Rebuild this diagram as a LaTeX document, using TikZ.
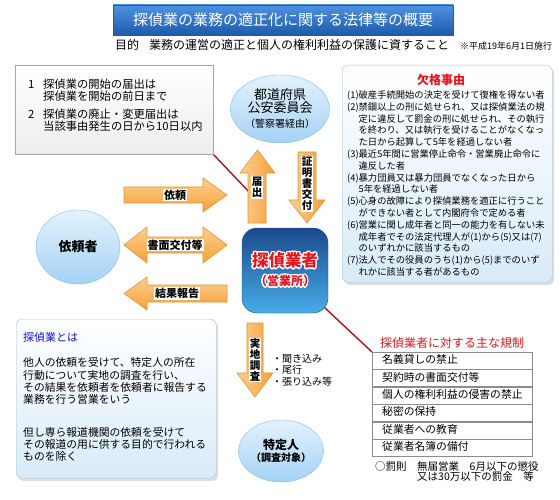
\documentclass[tikz,border=0pt]{standalone}
\usepackage{fontspec}
\setmainfont{Noto Sans CJK JP}
\usepackage[copies]{contour}
\contourlength{1.2pt}
\usetikzlibrary{shapes,shadows,positioning}

\definecolor{titleTop}{RGB}{78,146,224}
\definecolor{titleBottom}{RGB}{30,90,172}
\definecolor{arrowLight}{RGB}{253,208,146}
\definecolor{arrowDark}{RGB}{245,160,56}
\definecolor{arrowEdge}{RGB}{228,146,50}
\definecolor{bubbleTop}{RGB}{228,242,252}
\definecolor{bubbleBottom}{RGB}{164,210,245}
\definecolor{bubbleEdge}{RGB}{132,188,232}
\definecolor{panelEdge}{RGB}{164,192,214}
\definecolor{panelBottom}{RGB}{216,235,248}
\definecolor{shopTop}{RGB}{26,74,140}
\definecolor{shopMid}{RGB}{40,112,186}
\definecolor{shopBottom}{RGB}{72,172,232}
\definecolor{calloutRed}{RGB}{176,16,28}
\definecolor{headRed}{RGB}{232,20,30}
\definecolor{headBlue}{RGB}{20,20,210}

\pgfdeclarelayer{background}
\pgfsetlayers{background,main}

\begin{document}
\begin{tikzpicture}[x=1pt, y=-1pt]
	\tikzstyle{plainText}=[inner sep=0pt]
	\tikzstyle{titleStyle}=[draw=titleBottom, top color=titleTop, bottom color=titleBottom, minimum width=340, minimum height=30, text=white, font=\fontsize{15}{15}\selectfont]
	\tikzstyle{noticeStyle}=[draw=black!35, top color=white, bottom color=black!7]
	\tikzstyle{bubbleStyle}=[ellipse, draw=bubbleEdge, top color=bubbleTop, bottom color=bubbleBottom, align=center, inner sep=0pt]
	\tikzstyle{shopStyle}=[draw=shopTop, rounded corners=15, top color=shopTop, middle color=shopMid, bottom color=shopBottom, align=center, text=headRed]
	\tikzstyle{panelStyle}=[draw=panelEdge, rounded corners=6, top color=white, bottom color=panelBottom, drop shadow={shadow xshift=2pt, shadow yshift=-3pt, opacity=0.25}]
	\tikzstyle{hArrow}=[draw=arrowEdge, line width=0.6pt, top color=arrowLight, bottom color=arrowDark]
	\tikzstyle{vArrow}=[draw=arrowEdge, line width=0.6pt, left color=arrowLight, right color=arrowDark]
	\tikzstyle{arrowLabel}=[fill=white, inner sep=1pt, font=\bfseries\fontsize{11}{11}\selectfont]
	\tikzstyle{vLabel}=[fill=white, inner sep=1pt, align=center, font=\bfseries\fontsize{10.5}{11}\selectfont]
	\tikzstyle{ruleRow}=[draw=black!45, fill=white, minimum width=160, minimum height=17, text width=140, inner xsep=10, inner ysep=2, text height=8, text depth=2, align=left, font=\fontsize{10.8}{10.8}\selectfont]
	\tikzstyle{callout}=[draw=calloutRed, line width=1.4pt]
	\path[use as bounding box] (0,0) rectangle (560,500);
	% title and purpose
	\node[titleStyle] (title) at (283,20) {探偵業の業務の適正化に関する法律等の概要};
	\node[plainText, anchor=west, font=\fontsize{12}{12}\selectfont] (purpose) at (115,45) {目的\hspace{10pt}業務の運営の適正と個人の権利利益の保護に資すること};
	\node[plainText, anchor=west, font=\fontsize{9}{9}\selectfont] (enforce) at (460,46) {※平成19年6月1日施行};
	% notification box
	\node[noticeStyle, anchor=north west, minimum width=198, minimum height=89] (notice) at (15,65) {};
	\node[plainText, anchor=north west, align=left, font=\fontsize{11.3}{12}\selectfont] (noticeText) at (28,78.5) {\makebox[15pt][l]{1}探偵業の開始の届出は\\\hspace*{15pt}探偵業を開始の前日まで\\[6pt]\makebox[15pt][l]{2}探偵業の廃止・変更届出は\\\hspace*{15pt}当該事由発生の日から10日以内};
	% parties
	\node[bubbleStyle, minimum width=84, minimum height=68, font=\fontsize{13}{12.5}\selectfont] (police) at (280,109) {都道府県\\公安委員会\\[3pt]\fontsize{10}{10}\selectfont（警察署経由）};
	\node[bubbleStyle, minimum width=84, minimum height=74, font=\bfseries\fontsize{13}{13}\selectfont] (client) at (78,247) {依頼者};
	\node[shopStyle, minimum width=86, minimum height=85, font=\bfseries\fontsize{16.5}{19}\selectfont] (shop) at (285,270.5) {\contour{white}{探偵業者}\\\fontsize{12}{12}\selectfont\contour{white}{（営業所）}};
	\node[bubbleStyle, minimum width=82, minimum height=62, font=\bfseries\fontsize{12}{12.5}\selectfont] (target) at (281,451) {特定人\\\fontsize{10}{10}\selectfont（調査対象）};
	% block arrows
	\shade[hArrow] (124,187) -- (203,187) -- (203,178) -- (227,195) -- (203,212) -- (203,203) -- (124,203) -- cycle;
	\shade[hArrow] (124,245) -- (147,227) -- (147,237) -- (203,237) -- (203,227) -- (227,245) -- (203,263) -- (203,253) -- (147,253) -- (147,263) -- cycle;
	\shade[hArrow] (124,293.5) -- (147,277) -- (147,285) -- (227,285) -- (227,302) -- (147,302) -- (147,310) -- cycle;
	\shade[vArrow] (248,223) -- (248,173) -- (240,173) -- (257.5,150) -- (275,173) -- (266,173) -- (266,223) -- cycle;
	\shade[vArrow] (298,152) -- (316,152) -- (316,200) -- (325,200) -- (307,223) -- (289,200) -- (298,200) -- cycle;
	\shade[vArrow] (247,323) -- (263,323) -- (263,373) -- (273,373) -- (255,397) -- (237,373) -- (247,373) -- cycle;
	\node[arrowLabel] (irai) at (175,195) {依頼};
	\node[arrowLabel] (shomen) at (175,245) {書面交付等};
	\node[arrowLabel] (houkoku) at (177,293.5) {結果報告};
	\node[vLabel] (todoke) at (257,187.5) {届\\出};
	\node[vLabel] (shoumei) at (307,184) {証\\明\\書\\交\\付};
	\node[vLabel] (jicchi) at (255,360) {実\\地\\調\\査};
	\node[plainText, anchor=north west, align=left, font=\fontsize{10}{11.5}\selectfont] (methods) at (272,354) {・聞き込み\\・尾行\\・張り込み等};
	% disqualification panel
	\node[panelStyle, anchor=north west, minimum width=210, minimum height=217] (disq) at (342,65) {};
	\node[plainText, text=headRed, font=\bfseries\fontsize{12}{12}\selectfont] (disqTitle) at (441,80) {欠格事由};
	\node[plainText, anchor=north west, align=left, font=\fontsize{9.3}{11.8}\selectfont] (disqText) at (347,90.5) {(1)破産手続開始の決定を受けて復権を得ない者\\(2)禁錮以上の刑に処せられ、又は探偵業法の規\\\phantom{(2)}定に違反して罰金の刑に処せられ、その執行\\\phantom{(2)}を終わり、又は執行を受けることがなくなっ\\\phantom{(2)}た日から起算して5年を経過しない者\\(3)最近5年間に営業停止命令・営業廃止命令に\\\phantom{(3)}違反した者\\(4)暴力団員又は暴力団員でなくなった日から\\\phantom{(4)}5年を経過しない者\\(5)心身の故障により探偵業務を適正に行うこと\\\phantom{(5)}ができない者として内閣府令で定める者\\(6)営業に関し成年者と同一の能力を有しない未\\\phantom{(6)}成年者でその法定代理人が(1)から(5)又は(7)\\\phantom{(6)}のいずれかに該当するもの\\(7)法人でその役員のうち(1)から(5)までのいず\\\phantom{(7)}れかに該当する者があるもの};
	% definition panel
	\node[panelStyle, anchor=north west, minimum width=200, minimum height=159] (about) at (16,319) {};
	\node[plainText, anchor=west, text=headBlue, font=\fontsize{11}{11}\selectfont] (aboutTitle) at (23,337) {探偵業とは};
	\node[plainText, anchor=north west, align=left, font=\fontsize{10.8}{12.3}\selectfont] (aboutText) at (23,357.5) {他人の依頼を受けて、特定人の所在\\行動について実地の調査を行い、\\その結果を依頼者を依頼者に報告する\\業務を行う営業をいう\\[20pt]但し専ら報道機関の依頼を受けて\\その報道の用に供する目的で行われる\\ものを除く};
	% main regulations
	\node[plainText, text=headRed, font=\fontsize{12}{12}\selectfont] (ruleTitle) at (452,343) {探偵業者に対する主な規制};
	\node[ruleRow, anchor=north west] (rule1) at (372,352) {名義貸しの禁止};
	\node[ruleRow, below=0pt of rule1] (rule2) {契約時の書面交付等};
	\node[ruleRow, below=0pt of rule2] (rule3) {個人の権利利益の侵害の禁止};
	\node[ruleRow, below=0pt of rule3] (rule4) {秘密の保持};
	\node[ruleRow, below=0pt of rule4] (rule5) {従業者への教育};
	\node[ruleRow, below=0pt of rule5] (rule6) {従業者名簿の備付};
	\node[plainText, anchor=west, font=\fontsize{10.5}{10.5}\selectfont] (penalty) at (375,466.5) {○罰則　無届営業　6月以下の懲役};
	\node[plainText, anchor=west, font=\fontsize{10.5}{10.5}\selectfont] (penaltyFine) at (417,477) {又は30万以下の罰金　等};
	% callouts
	\coordinate (todokeIn) at (251,194);
	\begin{pgfonlayer}{background}
		\draw[callout] (notice.south east) -- (todokeIn);
		\draw[callout] (shop.center) -- (rule1.north west);
	\end{pgfonlayer}
\end{tikzpicture}
\end{document}
